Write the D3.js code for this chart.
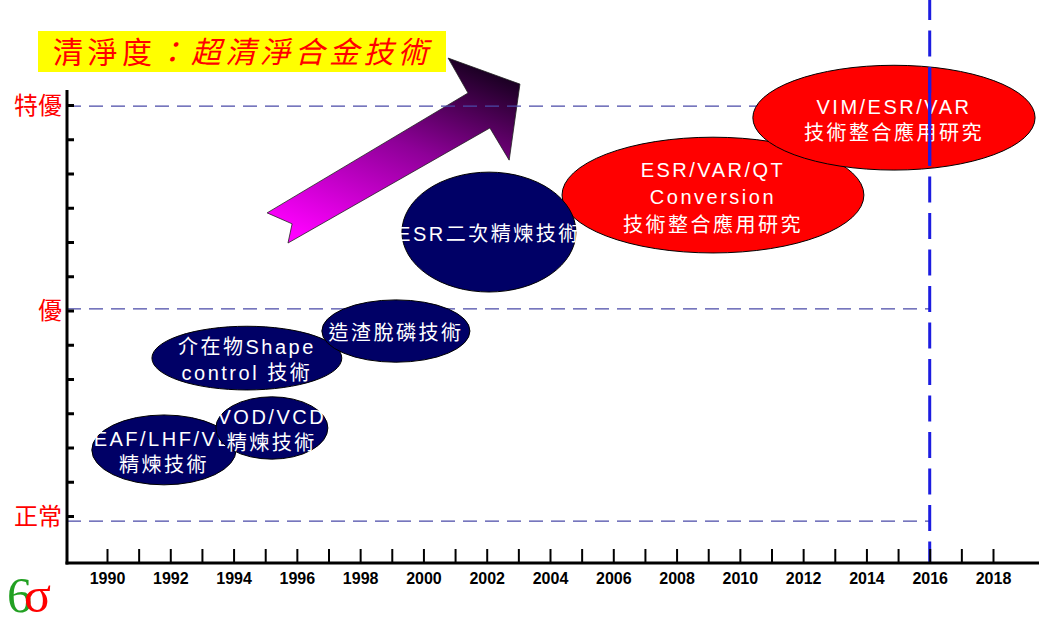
<!DOCTYPE html>
<html lang="zh-Hant">
<head>
<meta charset="UTF-8">
<title>清淨度：超清淨合金技術</title>
<script src="https://d3js.org/d3.v7.min.js"></script>
<style>
  body { margin: 0; background: #fff; }
  svg text { font-family: "Liberation Sans", "Noto Sans CJK TC", sans-serif; }
</style>
</head>
<body>
<svg id="chart" width="1039" height="624"></svg>
<script>
// years on the bottom axis
const tickYears = d3.range(1990, 2019);
const labelYears = d3.range(1990, 2019, 2);
const currentYear = 2016;

// cleanliness grades on the left (level units, 0..12 = minor ticks)
const gradeNames = ['正常', '優', '特優'];
const gradeLevels = [-0.15, 6.05, 11.97];
const levelTicks = d3.range(0, 13);

// technology bubbles, listed in drawing order
const techLabels = [
  ['EAF/LHF/VD', '精煉技術'],
  ['VOD/VCD', '精煉技術'],
  ['介在物Shape', 'control 技術'],
  ['造渣脫磷技術'],
  ['ESR/VAR/QT', 'Conversion', '技術整合應用研究'],
  ['ESR二次精煉技術'],
  ['VIM/ESR/VAR', '技術整合應用研究']
];
const techYear = [1991.80, 1995.21, 1994.42, 1999.13, 2009.15, 2002.07, 2014.87];
const techLevel = [1.93, 2.57, 4.61, 5.40, 9.37, 8.29, 11.63];
const techHalfYears = [2.28, 1.77, 3.00, 2.34, 4.77, 2.75, 4.46];
const techHalfLevels = [1.02, 0.91, 0.93, 0.91, 1.69, 1.75, 1.53];
const techStage = ['done', 'done', 'done', 'done', 'research', 'done', 'research'];

// trend arrow outline (year, level)
const arrowYears = [1995.06, 2001.41, 2000.78, 2003.05, 2002.71, 2002.10, 1995.72, 1995.85];
const arrowLevels = [8.85, 12.35, 13.37, 12.61, 10.39, 11.33, 7.97, 8.53];

const svg = d3.select('#chart');
const axisX = 67, axisY = 563;

const xScale = d3.scaleLinear().domain([1990, 2018]).range([107, 993]);
const yScale = d3.scaleLinear().domain([0, 12]).range([516, 105]);
const stageColor = { done: '#000066', research: '#ff0000' };

// gradient for the arrow
const grad = svg.append('defs').append('linearGradient')
  .attr('id', 'arrowFill')
  .attr('x1', 0.75).attr('y1', 0).attr('x2', 0.2).attr('y2', 1);
grad.append('stop').attr('offset', 0).attr('stop-color', '#1a0022');
grad.append('stop').attr('offset', 0.45).attr('stop-color', '#8e0098');
grad.append('stop').attr('offset', 1).attr('stop-color', '#ff00ff');

// arrow
const arrowLine = d3.line()
  .x(i => xScale(arrowYears[i]))
  .y(i => yScale(arrowLevels[i]));
svg.append('path')
  .attr('d', arrowLine(d3.range(arrowYears.length)) + 'Z')
  .attr('fill', 'url(#arrowFill)')
  .attr('stroke', '#222')
  .attr('stroke-width', 0.8);

// dashed grade lines
svg.append('g').selectAll('line').data(gradeLevels)
  .join('line')
  .attr('x1', axisX).attr('x2', xScale(currentYear))
  .attr('y1', d => yScale(d)).attr('y2', d => yScale(d))
  .attr('stroke', '#4a4aa8')
  .attr('stroke-width', 1.2)
  .attr('stroke-dasharray', '14,8');

// grade labels sit on the nearest level tick
svg.append('g').selectAll('text').data(gradeLevels)
  .join('text')
  .attr('x', 62)
  .attr('y', d => yScale(Math.round(d)))
  .attr('dy', '0.36em')
  .attr('text-anchor', 'end')
  .attr('fill', '#ff0000')
  .attr('font-size', 24)
  .style('font-family', '"Noto Sans CJK TC"')
  .text((d, i) => gradeNames[i]);

// technology bubbles
const techG = svg.append('g').selectAll('g').data(d3.range(techLabels.length))
  .join('g');
techG.append('ellipse')
  .attr('cx', i => xScale(techYear[i]))
  .attr('cy', i => yScale(techLevel[i]))
  .attr('rx', i => xScale(techYear[i] + techHalfYears[i]) - xScale(techYear[i]))
  .attr('ry', i => yScale(techLevel[i] - techHalfLevels[i]) - yScale(techLevel[i]))
  .attr('fill', i => stageColor[techStage[i]])
  .attr('stroke', '#000')
  .attr('stroke-width', 1);
techG.each(function(i) {
  const lines = techLabels[i];
  const lh = lines.length > 2 ? 27.5 : 26;
  const cy = yScale(techLevel[i]) + 2;
  d3.select(this).selectAll('text').data(lines)
    .join('text')
    .attr('x', xScale(techYear[i]))
    .attr('y', (d, k) => cy + (k - (lines.length - 1) / 2) * lh)
    .attr('dy', '0.35em')
    .attr('text-anchor', 'middle')
    .attr('fill', '#fff')
    .attr('font-size', 20)
    .attr('letter-spacing', 2.5)
    .text(d => d);
});

// current year marker
const nowX = xScale(currentYear);
svg.append('line')
  .attr('x1', nowX).attr('x2', nowX)
  .attr('y1', -6).attr('y2', axisY)
  .attr('stroke', '#1c1ce0')
  .attr('stroke-width', 3)
  .attr('stroke-dasharray', '26,10.5');
// solid where it crosses the last bubble
const last = techLabels.length - 1;
const ecx = xScale(techYear[last]);
const ecy = yScale(techLevel[last]);
const erx = xScale(techYear[last] + techHalfYears[last]) - ecx;
const ery = yScale(techLevel[last] - techHalfLevels[last]) - ecy;
const half = ery * Math.sqrt(1 - Math.pow((nowX - ecx) / erx, 2));
svg.append('line')
  .attr('x1', nowX).attr('x2', nowX)
  .attr('y1', ecy - half + 1).attr('y2', ecy + half - 4)
  .attr('stroke', '#1c1ce0')
  .attr('stroke-width', 3);

// y axis
svg.append('g')
  .attr('transform', `translate(${axisX},0)`)
  .call(d3.axisRight(yScale).tickValues(levelTicks).tickSize(7).tickFormat(''))
  .call(g => g.select('.domain').remove())
  .call(g => g.selectAll('.tick line').attr('stroke', '#000').attr('stroke-width', 3));
svg.append('line')
  .attr('x1', axisX).attr('x2', axisX)
  .attr('y1', 90).attr('y2', axisY + 1.5)
  .attr('stroke', '#000').attr('stroke-width', 3);

// x axis
svg.append('g')
  .attr('transform', `translate(0,${axisY})`)
  .call(d3.axisBottom(xScale).tickValues(tickYears)
    .tickSizeInner(-14).tickSizeOuter(0).tickPadding(10)
    .tickFormat(d => labelYears.includes(d) ? d : ''))
  .call(g => g.select('.domain').remove())
  .call(g => g.selectAll('.tick line').attr('stroke', '#000').attr('stroke-width', 2))
  .call(g => g.selectAll('.tick text')
    .attr('fill', '#000')
    .attr('font-size', 16)
    .attr('font-weight', 'bold')
    .style('font-family', '"Liberation Sans", Arial, sans-serif'));
svg.append('line')
  .attr('x1', axisX - 1.5).attr('x2', 1039)
  .attr('y1', axisY).attr('y2', axisY)
  .attr('stroke', '#000').attr('stroke-width', 3);

// title box
svg.append('rect')
  .attr('x', 38).attr('y', 31).attr('width', 408).attr('height', 41)
  .attr('fill', '#ffff00');
const title = svg.append('text')
  .attr('x', 53).attr('y', 52)
  .attr('dy', '0.35em')
  .attr('fill', '#ff0000')
  .attr('font-size', 30)
  .attr('letter-spacing', 4.5)
  .style('font-family', '"Noto Sans CJK TC"');
title.append('tspan').text('清淨度');
title.append('tspan').attr('font-style', 'italic').text('：超清淨合金技術');

// 6σ mark
const mark = svg.append('text')
  .attr('x', 7).attr('y', 612)
  .attr('font-size', 50)
  .style('font-family', '"Liberation Serif", serif');
mark.append('tspan').attr('fill', '#22a022').text('6');
mark.append('tspan').attr('fill', '#ff0000').attr('dx', -8).text('σ');
</script>
</body>
</html>
